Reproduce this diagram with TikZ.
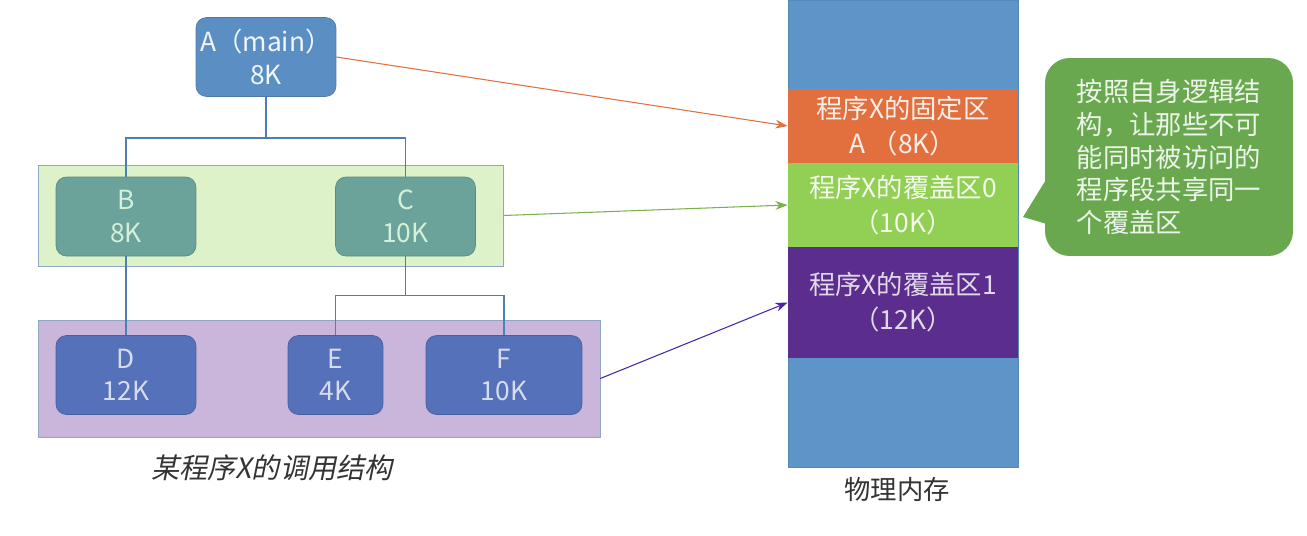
\documentclass[tikz,border=0pt]{standalone}
\usepackage{fontspec}
\setmainfont{Noto Sans CJK SC}
\newfontfamily\slantFont[FakeSlant=0.2]{Noto Sans CJK SC}
\usetikzlibrary{arrows.meta}
\definecolor{aBlue}{HTML}{5B8FC4}
\definecolor{bcTeal}{HTML}{6BA39A}
\definecolor{defBlue}{HTML}{5571B9}
\definecolor{bandGreen}{HTML}{DDF2C9}
\definecolor{bandPurple}{HTML}{C9B6DA}
\definecolor{bandLine}{HTML}{8FA6C6}
\definecolor{treeLine}{HTML}{4F7FB0}
\definecolor{memBlue}{HTML}{5E95C8}
\definecolor{fixOrange}{HTML}{E2703F}
\definecolor{ovGreen}{HTML}{92CF55}
\definecolor{ovPurple}{HTML}{5B2D8C}
\definecolor{noteGreen}{HTML}{6AA84F}
\newcommand{\boxSty}{\fontsize{15}{18.5}\selectfont}
\newcommand{\memSty}{\fontsize{15}{20}\selectfont}

\begin{document}
\begin{tikzpicture}[x=0.02cm,y=-0.02cm,
	proc/.style={draw=#1!85!black, fill=#1, rounded corners=6pt, minimum width=2.8cm, minimum height=1.58cm, align=center, font=\boxSty, inner sep=0pt},
	band/.style={draw=bandLine, fill=#1, inner sep=0pt},
	tree/.style={draw=treeLine, line width=0.8pt},
	region/.style={fill=#1, minimum width=4.6cm, align=center, font=\memSty, inner sep=0pt},
	link/.style={draw=#1, line width=0.6pt, -{Stealth[length=7pt,width=5pt]}}]

	\useasboundingbox (0,0) rectangle (1307,535);

	% overlay groups
	\node[band=bandGreen, minimum width=9.3cm, minimum height=2.02cm] (grp0) at (270.5,215.5) {};
	\node[band=bandPurple, minimum width=11.24cm, minimum height=2.34cm] (grp1) at (319,378.5) {};

	% call tree
	\node[proc=aBlue, text=white!92!aBlue] (A) at (266,57) {A（main）\\8K};
	\node[proc=bcTeal, text=green!10!white!85!bcTeal] (B) at (126,216.5) {B\\8K};
	\node[proc=bcTeal, text=green!10!white!85!bcTeal] (C) at (405.5,216.5) {C\\10K};
	\node[proc=defBlue, text=white!75!defBlue] (D) at (126,375) {D\\12K};
	\node[proc=defBlue, text=white!75!defBlue, minimum width=1.9cm] (E) at (335.5,375) {E\\4K};
	\node[proc=defBlue, text=white!75!defBlue, minimum width=3.12cm] (F) at (504,375) {F\\10K};

	\draw[tree] (A.south) -- ++(0,41) -| (B.north);
	\draw[tree] (A.south) -- ++(0,41) -| (C.north);
	\draw[tree] (B.south) -- (D.north);
	\draw[tree] (C.south) -- ++(0,39) -| (E.north);
	\draw[tree] (C.south) -- ++(0,39) -| (F.north);

	\node[font=\fontsize{16}{19}\selectfont\slantFont, text=black!80] (callCap) at (272,468) {某程序X的调用结构};

	% physical memory
	\node[fill=memBlue, draw=memBlue!92!black, line width=0.4pt, minimum width=4.6cm, minimum height=9.34cm, inner sep=0pt] (mem) at (903,233.5) {};
	\node[region=fixOrange, minimum height=1.48cm, text=white!88!fixOrange] (fix) at (903,126) {程序X的固定区\\A （8K）};
	\node[region=ovGreen, minimum height=1.68cm, text=white!90!ovGreen] (ov0) at (903,205) {程序X的覆盖区0\\（10K）};
	\node[region=ovPurple, minimum height=2.22cm, text=white!82!ovPurple] (ov1) at (903,302.5) {程序X的覆盖区1\\（12K）};

	\node[font=\boxSty, text=black!80] (memCap) at (897,489) {物理内存};

	% mapping arrows
	\draw[link=fixOrange] (A.east) -- (fix.west);
	\draw[link=ovGreen!85!black] (grp0.east) -- (ov0.west);
	\draw[link=ovPurple!80!blue] (grp1.east) -- (ov1.west);

	% note
	\node[fill=noteGreen, rounded corners=14pt, minimum width=4.96cm, minimum height=3.96cm, align=left, font=\fontsize{15}{18.7}\selectfont, text=white!88!noteGreen] (note) at (1169,157) {按照自身逻辑结\\构，让那些不可\\能同时被访问的\\程序段共享同一\\个覆盖区};
	\coordinate (noteTip) at (1023,217);
	\fill[noteGreen] (1047,178) -- (noteTip) -- (1047,224) -- cycle;

\end{tikzpicture}
\end{document}
